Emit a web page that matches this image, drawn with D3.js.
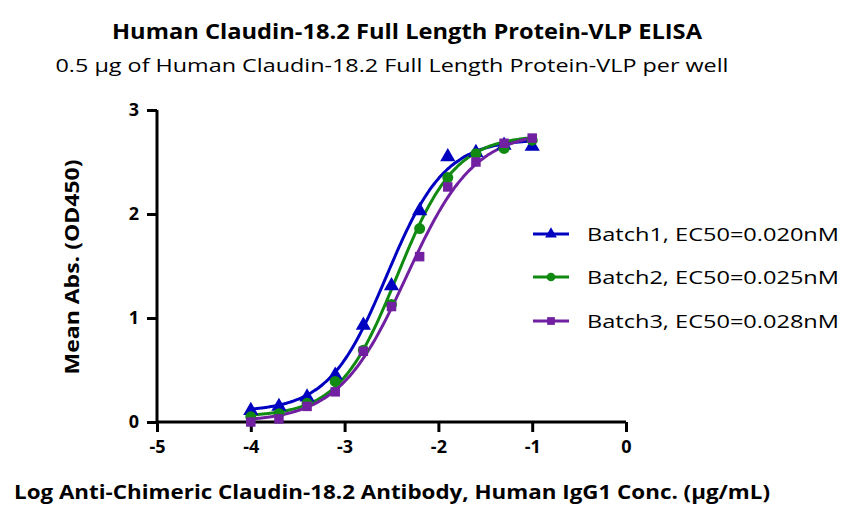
<!DOCTYPE html>
<html>
<head>
<meta charset="utf-8">
<script src="https://cdn.jsdelivr.net/npm/d3@7"></script>
<style>
  body { margin: 0; background: #fff; }
  text { font-family: "Open Sans", "Liberation Sans", sans-serif; }
</style>
</head>
<body>
<div id="chart"></div>
<script>
// log concentration (ug/mL)
var logConc = [-4, -3.7, -3.4, -3.1, -2.8, -2.5, -2.2, -1.9, -1.6, -1.3, -1.0];
var batch1 = [0.11, 0.15, 0.24, 0.45, 0.93, 1.31, 2.03, 2.55, 2.59, 2.66, 2.65];
var batch2 = [0.05, 0.08, 0.18, 0.39, 0.69, 1.13, 1.86, 2.35, 2.58, 2.63, 2.71];
var batch3 = [0.00, 0.03, 0.15, 0.29, 0.68, 1.11, 1.59, 2.26, 2.50, 2.68, 2.73];
var seriesNames = ["Batch1, EC50=0.020nM", "Batch2, EC50=0.025nM", "Batch3, EC50=0.028nM"];
// 4PL fit parameters: bottom, top, logEC50, hill
var fitBottom = [0.10, 0.05, 0.00];
var fitTop = [2.72, 2.76, 2.80];
var fitLogEC50 = [-2.55, -2.44, -2.34];
var fitHill = [1.40, 1.40, 1.20];
var xTicks = [-5, -4, -3, -2, -1, 0];
var yTicks = [0, 1, 2, 3];

var colors = ["#0000c0", "#108a10", "#7020a0"];
var symbols = [d3.symbolTriangle, d3.symbolCircle, d3.symbolSquare];
var symSize = [100, 95, 90];

var W = 859, H = 527;
var svg = d3.select("#chart").append("svg")
  .attr("width", W).attr("height", H);

var x = d3.scaleLinear().domain([-5, 0]).range([157, 626]);
var y = d3.scaleLinear().domain([0, 3]).range([422, 110]);

// titles
svg.append("text").attr("x", 407).attr("y", 39).attr("text-anchor", "middle")
  .attr("font-size", 21).attr("font-weight", "bold")
  .attr("textLength", 590).attr("lengthAdjust", "spacingAndGlyphs")
  .text("Human Claudin-18.2 Full Length Protein-VLP ELISA");
svg.append("text").attr("x", 392).attr("y", 72).attr("text-anchor", "middle")
  .attr("font-size", 19)
  .attr("textLength", 673).attr("lengthAdjust", "spacingAndGlyphs")
  .text("0.5 \u00b5g of Human Claudin-18.2 Full Length Protein-VLP per well");

// axes
var xAxis = d3.axisBottom(x).tickValues(xTicks).tickSize(10).tickPadding(8)
  .tickFormat(d3.format("d"));
var yAxis = d3.axisLeft(y).tickValues(yTicks).tickSize(10).tickPadding(8);

var gx = svg.append("g").attr("transform", "translate(0," + y(0) + ")").call(xAxis);
var gy = svg.append("g").attr("transform", "translate(" + x(-5) + ",0)").call(yAxis);
[gx, gy].forEach(function(g) {
  g.select(".domain").attr("stroke", "#000").attr("stroke-width", 3);
  g.selectAll(".tick line").attr("stroke", "#000").attr("stroke-width", 3);
  g.selectAll(".tick text").attr("fill", "#000").attr("font-size", 18)
    .attr("font-weight", "bold")
    .style("font-family", "'Open Sans', 'Liberation Sans', sans-serif")
    .text(function(d) { return d < 0 ? "-" + Math.abs(d) : d; });
});
gx.select(".domain").attr("d", "M" + x(-5) + ",0H" + x(0));
gy.select(".domain").attr("d", "M0," + y(0) + "V" + y(3));

// axis labels
svg.append("text").attr("x", 392).attr("y", 499).attr("text-anchor", "middle")
  .attr("font-size", 19).attr("font-weight", "bold")
  .attr("textLength", 756).attr("lengthAdjust", "spacingAndGlyphs")
  .text("Log Anti-Chimeric Claudin-18.2 Antibody, Human IgG1 Conc. (\u00b5g/mL)");
svg.append("text")
  .attr("transform", "translate(79,267) rotate(-90)")
  .attr("text-anchor", "middle")
  .attr("font-size", 19).attr("font-weight", "bold")
  .attr("textLength", 215).attr("lengthAdjust", "spacingAndGlyphs")
  .text("Mean Abs. (OD450)");

var data = [batch1, batch2, batch3];

// fitted curves
var line = d3.line().x(function(d) { return x(d[0]); }).y(function(d) { return y(d[1]); })
  .curve(d3.curveMonotoneX);
data.forEach(function(vals, i) {
  var pts = d3.range(-4, -0.999, 0.02).map(function(lx) {
    var v = fitBottom[i] + (fitTop[i] - fitBottom[i]) /
      (1 + Math.pow(10, (fitLogEC50[i] - lx) * fitHill[i]));
    return [lx, v];
  });
  svg.append("path").datum(pts).attr("d", line)
    .attr("fill", "none").attr("stroke", colors[i]).attr("stroke-width", 3);
});

// points
data.forEach(function(vals, i) {
  svg.selectAll(".pt" + i).data(vals).enter().append("path")
    .attr("class", "pt" + i)
    .attr("transform", function(d, j) { return "translate(" + x(logConc[j]) + "," + y(d) + ")"; })
    .attr("d", d3.symbol().type(symbols[i]).size(symSize[i]))
    .attr("fill", colors[i]);
});

// legend
var legY = [234, 277, 321];
seriesNames.forEach(function(name, i) {
  var g = svg.append("g").attr("transform", "translate(0," + legY[i] + ")");
  g.append("line").attr("x1", 533).attr("x2", 569).attr("y1", 0).attr("y2", 0)
    .attr("stroke", colors[i]).attr("stroke-width", 3);
  g.append("path").attr("transform", "translate(551,0)")
    .attr("d", d3.symbol().type(symbols[i]).size(60)).attr("fill", colors[i]);
  g.append("text").attr("x", 587).attr("y", 7).attr("font-size", 19)
    .attr("textLength", 252).attr("lengthAdjust", "spacingAndGlyphs")
    .text(name);
});
</script>
</body>
</html>
